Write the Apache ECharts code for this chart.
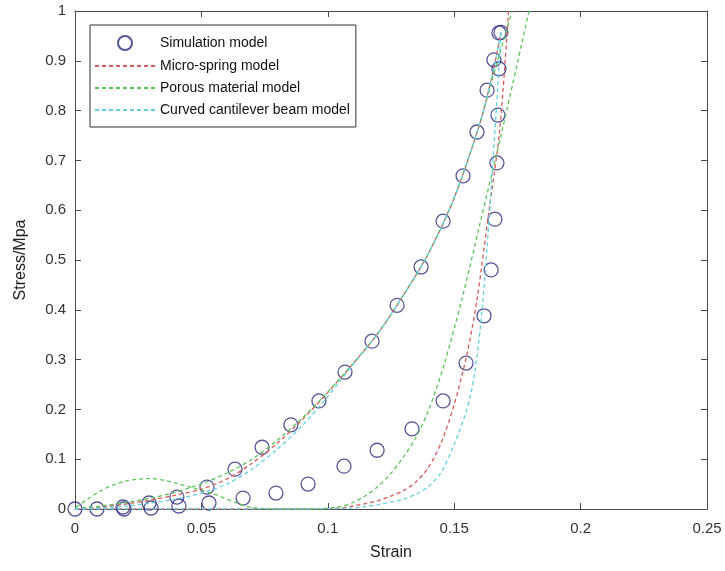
<!DOCTYPE html>
<html>
<head>
<meta charset="utf-8">
<script src="https://cdn.jsdelivr.net/npm/echarts@6/dist/echarts.min.js"></script>
<style>html,body{margin:0;padding:0;background:#fff}#c{width:725px;height:571px}</style>
</head>
<body>
<div id="c"></div>
<script>
// ---- data ----
var xTicks = [0, 0.05, 0.1, 0.15, 0.2, 0.25];
var yTicks = [0, 0.1, 0.2, 0.3, 0.4, 0.5, 0.6, 0.7, 0.8, 0.9, 1];

var simLoadX = [0, 0.0087, 0.019, 0.0293, 0.0403, 0.0522, 0.0633, 0.074, 0.0854, 0.0965, 0.1068, 0.1175, 0.1274, 0.1369, 0.1456, 0.1535, 0.159, 0.163, 0.1657, 0.1677];
var simLoadY = [0, 0, 0.004, 0.012, 0.024, 0.044, 0.08, 0.124, 0.169, 0.217, 0.275, 0.337, 0.409, 0.486, 0.578, 0.669, 0.757, 0.841, 0.902, 0.956];
var simUnloadX = [0.1685, 0.1677, 0.1673, 0.1669, 0.1661, 0.1646, 0.1618, 0.1547, 0.1456, 0.1333, 0.1195, 0.1064, 0.0922, 0.0795, 0.0665, 0.053, 0.0411, 0.0301, 0.0194];
var simUnloadY = [0.957, 0.884, 0.791, 0.695, 0.582, 0.48, 0.388, 0.293, 0.217, 0.161, 0.118, 0.086, 0.05, 0.032, 0.022, 0.012, 0.006, 0.002, 0];

var springLoadX = [0, 0.01, 0.02, 0.03, 0.04, 0.05, 0.06, 0.07, 0.08, 0.09, 0.1, 0.11, 0.12, 0.13, 0.14, 0.15, 0.16, 0.165, 0.1685];
var springLoadY = [0, 0.004, 0.01, 0.018, 0.028, 0.04, 0.06, 0.092, 0.132, 0.18, 0.234, 0.292, 0.354, 0.43, 0.515, 0.625, 0.772, 0.87, 0.957];
var springUnloadX = [0.1715, 0.168, 0.1638, 0.159, 0.155, 0.15, 0.145, 0.14, 0.135, 0.13, 0.125, 0.12, 0.115, 0.11, 0.105, 0.09, 0.06, 0.03, 0];
var springUnloadY = [1.0, 0.761, 0.6, 0.42, 0.31, 0.21, 0.135, 0.085, 0.055, 0.037, 0.026, 0.017, 0.011, 0.006, 0.002, 0, 0, 0, 0];

var porousLoadX = [0, 0.01, 0.02, 0.03, 0.04, 0.045, 0.05, 0.06, 0.07, 0.08, 0.09, 0.1, 0.11, 0.12, 0.13, 0.14, 0.15, 0.16, 0.165, 0.1729];
var porousLoadY = [0, 0.006, 0.013, 0.022, 0.034, 0.042, 0.05, 0.072, 0.1, 0.138, 0.183, 0.235, 0.292, 0.354, 0.43, 0.515, 0.625, 0.772, 0.862, 1.0];
var porousUnloadX = [0.1796, 0.169, 0.16, 0.153, 0.146, 0.14, 0.135, 0.13, 0.125, 0.12, 0.115, 0.11, 0.105, 0.095, 0.08, 0.07, 0.064, 0.055, 0.0455, 0.04, 0.035, 0.03, 0.025, 0.02, 0.015, 0.01, 0.005, 0];
var porousUnloadY = [1.0, 0.761, 0.569, 0.42, 0.29, 0.2, 0.145, 0.105, 0.072, 0.046, 0.027, 0.013, 0.005, 0, 0, 0.003, 0.012, 0.03, 0.044, 0.052, 0.058, 0.061, 0.06, 0.056, 0.048, 0.036, 0.02, 0.002];

var beamLoadX = [0, 0.01, 0.02, 0.03, 0.04, 0.05, 0.06, 0.07, 0.08, 0.09, 0.1, 0.11, 0.12, 0.13, 0.14, 0.15, 0.16, 0.165, 0.1685];
var beamLoadY = [0, 0.002, 0.006, 0.012, 0.02, 0.032, 0.05, 0.08, 0.12, 0.168, 0.226, 0.29, 0.354, 0.43, 0.515, 0.625, 0.772, 0.87, 0.957];
var beamUnloadX = [0.1685, 0.166, 0.1614, 0.158, 0.155, 0.15, 0.145, 0.14, 0.135, 0.13, 0.125, 0.12, 0.115, 0.11, 0.09, 0.05, 0];
var beamUnloadY = [0.957, 0.75, 0.42, 0.27, 0.2, 0.13, 0.075, 0.046, 0.03, 0.02, 0.014, 0.009, 0.005, 0.002, 0, 0, 0];

var names = ['Simulation model', 'Micro-spring model', 'Porous material model', 'Curved cantilever beam model'];

function pairs(xs, ys) { return xs.map(function (x, i) { return [x, ys[i]]; }); }

var C_SIM = '#2b2b80', C_RED = '#d65a5a', C_GREEN = '#5bc45b', C_CYAN = '#66cfe3';
var FONT = 'Liberation Sans, Arial, sans-serif';

function lineSeries(name, color, xs, ys) {
  return {
    name: name, type: 'line', data: pairs(xs, ys), showSymbol: false, symbol: 'none',
    smooth: 0.3, silent: true,
    lineStyle: { color: color, width: 1.3, type: [4, 3] }, itemStyle: { color: color }
  };
}

var chart = echarts.init(document.getElementById('c'), null, { renderer: 'canvas' });
var axisColor = '#4a4a4a';
var labelStyle = { color: '#333', fontSize: 15, fontFamily: FONT };

chart.setOption({
  animation: false,
  backgroundColor: '#fff',
  grid: { left: 75, right: 18, top: 11, bottom: 62, containLabel: false },
  legend: {
    data: [
      { name: names[0] },
      { name: names[1], itemStyle: { opacity: 0 } },
      { name: names[2], itemStyle: { opacity: 0 } },
      { name: names[3], itemStyle: { opacity: 0 } }
    ],
    orient: 'vertical', left: 90, top: 25,
    itemWidth: 60, itemHeight: 14, itemGap: 8,
    padding: [10, 6, 10, 4], borderColor: '#333', borderWidth: 1,
    backgroundColor: '#fff',
    textStyle: { color: '#111', fontSize: 14, fontFamily: FONT }
  },
  xAxis: [{
    type: 'value', min: 0, max: 0.25, interval: 0.05, position: 'bottom',
    name: 'Strain', nameLocation: 'middle', nameGap: 36,
    nameTextStyle: { color: '#222', fontSize: 16, fontFamily: FONT },
    axisLine: { show: true, onZero: false, lineStyle: { color: axisColor } },
    axisTick: { inside: true, length: 6, lineStyle: { color: axisColor } },
    axisLabel: Object.assign({ margin: 12, formatter: function (v) { return String(+v.toFixed(2)); } }, labelStyle),
    splitLine: { show: false }
  }, {
    type: 'value', min: 0, max: 0.25, interval: 0.05, position: 'top',
    axisLine: { show: true, onZero: false, lineStyle: { color: axisColor } },
    axisTick: { inside: true, length: 6, lineStyle: { color: axisColor } },
    axisLabel: { show: false }, splitLine: { show: false }
  }],
  yAxis: [{
    type: 'value', min: 0, max: 1, interval: 0.1, position: 'left',
    name: 'Stress/Mpa', nameLocation: 'middle', nameGap: 46, nameRotate: 90,
    nameTextStyle: { color: '#222', fontSize: 16, fontFamily: FONT },
    axisLine: { show: true, onZero: false, lineStyle: { color: axisColor } },
    axisTick: { inside: true, length: 6, lineStyle: { color: axisColor } },
    axisLabel: Object.assign({ margin: 9, formatter: function (v) { return String(+v.toFixed(1)); } }, labelStyle),
    splitLine: { show: false }
  }, {
    type: 'value', min: 0, max: 1, interval: 0.1, position: 'right',
    axisLine: { show: true, onZero: false, lineStyle: { color: axisColor } },
    axisTick: { inside: true, length: 6, lineStyle: { color: axisColor } },
    axisLabel: { show: false }, splitLine: { show: false }
  }],
  series: [
    {
      name: names[0], type: 'scatter', symbol: 'circle', symbolSize: 14, silent: true,
      data: pairs(simLoadX, simLoadY).concat(pairs(simUnloadX, simUnloadY)),
      itemStyle: { color: 'rgba(255,255,255,0)', borderColor: C_SIM, borderWidth: 1.3 }
    },
    lineSeries(names[1], C_RED, springLoadX, springLoadY),
    lineSeries(names[1], C_RED, springUnloadX, springUnloadY),
    lineSeries(names[2], C_GREEN, porousLoadX, porousLoadY),
    lineSeries(names[2], C_GREEN, porousUnloadX, porousUnloadY),
    lineSeries(names[3], C_CYAN, beamLoadX, beamLoadY),
    lineSeries(names[3], C_CYAN, beamUnloadX, beamUnloadY)
  ]
});
</script>
</body>
</html>
